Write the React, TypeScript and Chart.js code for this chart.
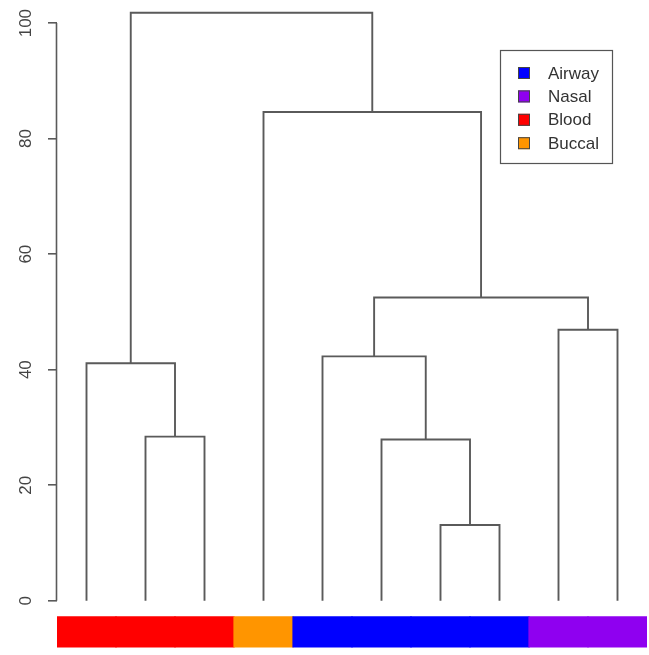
import React, { useEffect, useRef } from "react";
import { Chart, registerables } from "chart.js";

Chart.register(...registerables);

// Leaf groups in dendrogram order (left to right)
const leafGroups = ["Blood", "Blood", "Blood", "Buccal", "Airway", "Airway", "Airway", "Airway", "Nasal", "Nasal"];
// Merge table (hclust style): negative = leaf position (1-based), positive = earlier merge (1-based)
const mergeLeft = [-7, -6, -2, -1, -5, -9, 5, -4, 4];
const mergeRight = [-8, 1, -3, 3, 2, -10, 6, 7, 8];
const mergeHeights = [13.1, 27.9, 28.4, 41.1, 42.3, 46.9, 52.5, 84.6, 101.8];
const yTickValues = [0, 20, 40, 60, 80, 100];
const legendGroups = ["Airway", "Nasal", "Blood", "Buccal"];
const groupColors = ["#0000FF", "#8F00F0", "#FF0000", "#FF9500"];

const LINE = "#5a5a5a";
const FONT = "'Liberation Sans', Arial, Helvetica, sans-serif";

function buildSegments() {
  const nodeX: number[] = [];
  const pos = (ref: number) =>
    ref < 0 ? { x: -ref, h: 0 } : { x: nodeX[ref - 1], h: mergeHeights[ref - 1] };
  const segs: { x: number; y: number }[][] = [];
  for (let i = 0; i < mergeHeights.length; i++) {
    const l = pos(mergeLeft[i]);
    const r = pos(mergeRight[i]);
    const h = mergeHeights[i];
    nodeX[i] = (l.x + r.x) / 2;
    segs.push([
      { x: l.x, y: l.h },
      { x: l.x, y: h },
      { x: r.x, y: h },
      { x: r.x, y: r.h },
    ]);
  }
  return segs;
}

const overlay = {
  id: "overlay",
  afterDraw(chart: any) {
    const ctx = chart.ctx;
    const ys = chart.scales.y;
    ctx.save();
    // axis line from first to last tick
    ctx.strokeStyle = LINE;
    ctx.lineWidth = 1.6;
    const ax = ys.right - 0.5;
    ctx.beginPath();
    ctx.moveTo(ax, ys.getPixelForValue(yTickValues[0]));
    ctx.lineTo(ax, ys.getPixelForValue(yTickValues[yTickValues.length - 1]));
    ctx.stroke();

    // legend box
    const bx = 500, by = 50, bw = 112, bh = 113;
    ctx.strokeStyle = "#555";
    ctx.lineWidth = 1.2;
    ctx.strokeRect(bx + 0.5, by + 0.5, bw, bh);
    ctx.font = `17px ${FONT}`;
    ctx.textBaseline = "middle";
    ctx.textAlign = "left";
    legendGroups.forEach((g, i) => {
      const cy = 73 + i * 23.4;
      ctx.fillStyle = groupColors[i];
      ctx.fillRect(518, cy - 6, 12, 12);
      ctx.strokeStyle = "#444";
      ctx.lineWidth = 1;
      ctx.strokeRect(518.5, cy - 5.5, 11, 11);
      ctx.fillStyle = "#333";
      ctx.fillText(g, 548, cy + 1);
    });
    ctx.restore();
  },
};

export default function App() {
  const ref = useRef<HTMLCanvasElement>(null);
  useEffect(() => {
    document.body.style.margin = "0";
    const segs = buildSegments();
    const lineSets = segs.map((d) => ({
      type: "line" as const,
      data: d,
      borderColor: LINE,
      borderWidth: 1.9,
      pointRadius: 0,
      fill: false,
      tension: 0,
      borderJoinStyle: "miter" as const,
      borderCapStyle: "butt" as const,
    }));
    const barColors = leafGroups.map((g) => groupColors[legendGroups.indexOf(g)]);
    const barTop = -2.8;
    const barBottom = -8.0;
    const barSet = {
      type: "bar" as const,
      data: leafGroups.map((_, i) => ({ x: i + 1, y: [barBottom, barTop] })),
      backgroundColor: barColors,
      borderWidth: 0,
      inflateAmount: 0.6,
      barPercentage: 1,
      categoryPercentage: 1,
      grouped: false,
    };
    const chart = new Chart(ref.current!, {
      type: "bar",
      data: { datasets: [barSet as any, ...lineSets] },
      options: {
        responsive: false,
        animation: false,
        layout: { padding: { left: 1, right: 2, top: 0, bottom: 0 } },
        plugins: { legend: { display: false }, tooltip: { enabled: false } },
        scales: {
          x: {
            type: "linear",
            offset: false,
            min: 0.5,
            max: leafGroups.length + 0.5,
            display: false,
          },
          y: {
            type: "linear",
            min: -9.4,
            max: 104,
            afterFit: (s: any) => {
              s.width = 56;
              s.paddingTop = 0;
              s.paddingBottom = 0;
            },
            afterBuildTicks: (s: any) => {
              s.ticks = yTickValues.map((v) => ({ value: v }));
            },
            border: { display: false },
            grid: {
              drawOnChartArea: false,
              drawTicks: true,
              tickLength: 9,
              color: LINE,
              lineWidth: 1.6,
            },
            ticks: {
              minRotation: 90,
              maxRotation: 90,
              crossAlign: "center",
              padding: 8,
              color: "#444",
              font: { family: FONT, size: 17 },
            },
          },
        },
      },
      plugins: [overlay],
    });
    return () => chart.destroy();
  }, []);
  return (
    <div style={{ width: 649, height: 655 }}>
      <canvas ref={ref} width={649} height={655} style={{ display: "block" }} />
    </div>
  );
}
